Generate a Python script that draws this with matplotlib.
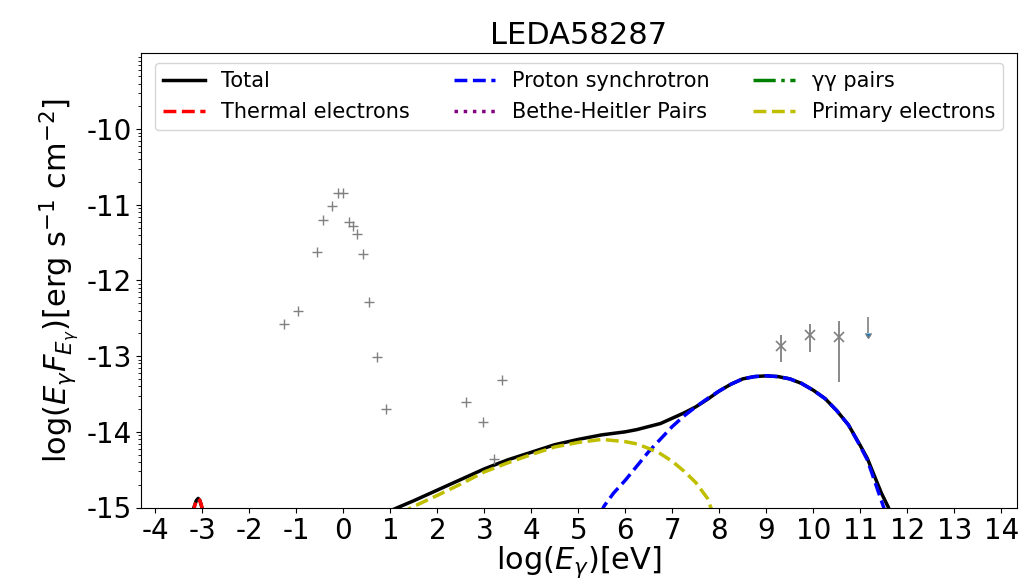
import numpy as np
import matplotlib
matplotlib.use("Agg")
import matplotlib.pyplot as plt
from matplotlib.ticker import FixedLocator, FuncFormatter, LogLocator, NullFormatter

plt.rcParams['axes.unicode_minus'] = False

# observed SED points, log10(E/eV) vs log10(E F_E)
sed_x = [-1.26, -0.96, -0.57, -0.44, -0.25, -0.12, 0.0, 0.12, 0.20, 0.30,
         0.41, 0.55, 0.72, 0.91, 2.61, 2.97, 3.20, 3.37]
sed_y = [-12.57, -12.40, -11.62, -11.20, -11.02, -10.85, -10.84, -11.23, -11.28, -11.38,
         -11.65, -12.28, -13.01, -13.70, -13.61, -13.87, -14.36, -13.32]

# gamma-ray points with error bars (log values)
gam_x = [9.32, 9.94, 10.55]
gam_y = [-12.87, -12.72, -12.75]
gam_lo = [-13.08, -12.95, -13.34]
gam_hi = [-12.72, -12.58, -12.53]

# upper limit
ul_x = [11.17]
ul_top = [-12.48]
ul_bottom = [-12.70]

# model curves
total_x = [-3.25, -3.18, -3.13, -3.09, -3.05, -3.01, -2.95, 0.5, 1.16, 1.5, 2.0, 2.5, 3.0,
           3.5, 4.0, 4.5, 5.0, 5.5, 5.75, 6.0, 6.25, 6.5, 6.75, 7.0, 7.25, 7.5, 7.75,
           8.0, 8.25, 8.5, 8.75, 9.0, 9.25, 9.5, 9.75, 10.0, 10.25, 10.5, 10.75, 11.0,
           11.15, 11.3, 11.45, 11.6, 11.75]
total_y = [-15.2, -15.0, -14.91, -14.88, -14.91, -15.0, -15.2, -15.18, -15.0, -14.91,
           -14.77, -14.63, -14.49, -14.37, -14.27, -14.17, -14.10, -14.04, -14.02,
           -14.0, -13.97, -13.93, -13.89, -13.82, -13.75, -13.67, -13.57, -13.46,
           -13.37, -13.30, -13.27, -13.26, -13.27, -13.30, -13.36, -13.45, -13.56,
           -13.72, -13.91, -14.18, -14.35, -14.58, -14.81, -15.0, -15.3]

thermal_x = [-3.2, -3.16, -3.12, -3.09, -3.06, -3.02, -2.98]
thermal_y = [-15.1, -14.97, -14.9, -14.88, -14.9, -14.97, -15.1]

proton_x = [5.3, 5.55, 5.75, 6.0, 6.5, 7.0, 7.25, 7.5, 7.75, 8.0, 8.25, 8.5, 8.75, 9.0,
            9.25, 9.5, 9.75, 10.0, 10.25, 10.5, 10.75, 11.0, 11.15, 11.3, 11.5, 11.6]
proton_y = [-15.3, -14.98, -14.81, -14.64, -14.26, -13.93, -13.79, -13.67, -13.56,
            -13.46, -13.37, -13.30, -13.27, -13.26, -13.27, -13.30, -13.36, -13.45,
            -13.56, -13.72, -13.91, -14.19, -14.37, -14.64, -15.0, -15.25]

primary_x = [1.2, 1.45, 2.0, 2.5, 3.0, 3.5, 4.0, 4.5, 5.0, 5.5, 6.0, 6.25, 6.5, 6.75,
             7.0, 7.25, 7.5, 7.75, 7.82, 7.95]
primary_y = [-15.08, -15.0, -14.84, -14.69, -14.53, -14.41, -14.30, -14.20, -14.14,
             -14.10, -14.13, -14.16, -14.22, -14.29, -14.39, -14.52, -14.67, -14.88,
             -15.0, -15.2]

# not visible above the plotted range
bh_x, bh_y = [], []
gg_x, gg_y = [], []


def lin(v):
    return 10.0 ** np.asarray(v, dtype=float)


fig = plt.figure(figsize=(10.2, 5.8), dpi=100)
ax = fig.add_axes([0.1385, 0.125, 0.8583, 0.7841])

ax.plot(total_x, lin(total_y), color='k', lw=2.5, label='Total')
ax.plot(thermal_x, lin(thermal_y), color='r', ls='--', lw=2.5, label='Thermal electrons')
ax.plot(proton_x, lin(proton_y), color='b', ls='--', lw=2.5, label='Proton synchrotron')
ax.plot(bh_x, lin(bh_y), color='purple', ls=':', lw=2.5, label='Bethe-Heitler Pairs')
ax.plot(gg_x, lin(gg_y), color='g', ls='-.', lw=2.5, label='γγ pairs')
ax.plot(primary_x, lin(primary_y), color='y', ls='--', lw=2.5, label='Primary electrons')

ax.plot(sed_x, lin(sed_y), '+', color='gray', ms=7.5, mew=1.0)

gy = lin(gam_y)
yerr = [gy - lin(gam_lo), lin(gam_hi) - gy]
ax.errorbar(gam_x, gy, yerr=yerr, fmt='x', color='gray', ms=7, mew=1.2,
            elinewidth=1.3, capsize=0)

ut = lin(ul_top)
ul = ax.errorbar(ul_x, ut, yerr=ut - lin(ul_bottom), fmt='none', ecolor='gray',
                 elinewidth=1.2, uplims=True, capsize=2.5)
# keep only the arrow head, drop the flat cap at the top
for cap in ul[1]:
    if cap.get_marker() == '_':
        cap.set_visible(False)

ax.set_yscale('log')
ax.set_xlim(-4.3, 14.33)
ax.set_ylim(1e-15, 10 ** -8.99)

ax.set_xticks(range(-4, 15))
ax.yaxis.set_major_locator(FixedLocator(lin([-15, -14, -13, -12, -11, -10])))
ax.yaxis.set_major_formatter(FuncFormatter(lambda v, p: '%d' % round(np.log10(v))))
ax.yaxis.set_minor_locator(LogLocator(base=10, subs=np.arange(2, 10), numticks=100))
ax.yaxis.set_minor_formatter(NullFormatter())
ax.tick_params(labelsize=20)

ax.set_title('LEDA58287', fontsize=22)
ax.set_xlabel(r'log($E_\gamma$)[eV]', fontsize=22, labelpad=0)
ax.set_ylabel(r'log($E_\gamma F_{E_\gamma}$)[erg s$^{-1}$ cm$^{-2}$]', fontsize=22)

ax.legend(ncol=3, loc='upper center', fontsize=15, columnspacing=2.1)

fig.savefig('out.png', dpi=100)
